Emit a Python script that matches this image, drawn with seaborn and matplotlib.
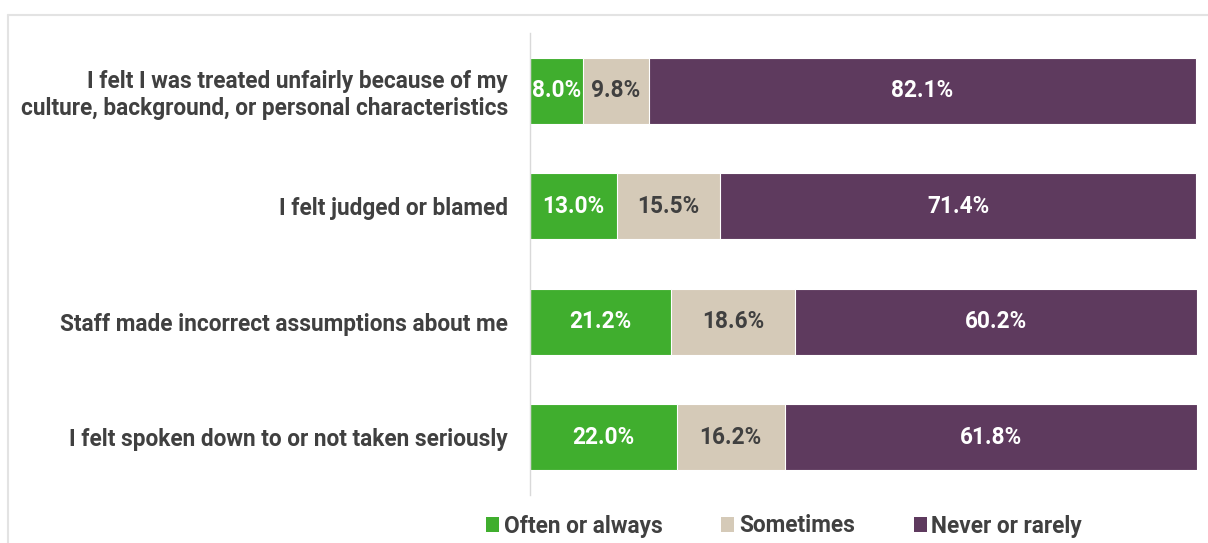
import numpy as np
import pandas as pd
import matplotlib
matplotlib.use("Agg")
import matplotlib.pyplot as plt
from matplotlib.lines import Line2D
from matplotlib.patches import Patch
import seaborn as sns

# Survey items and response shares (%)
items = [
    "I felt I was treated unfairly because of my\nculture, background, or personal characteristics",
    "I felt judged or blamed",
    "Staff made incorrect assumptions about me",
    "I felt spoken down to or not taken seriously",
]
often = [8.0, 13.0, 21.2, 22.0]
sometimes = [9.8, 15.5, 18.6, 16.2]
never = [82.1, 71.4, 60.2, 61.8]

series_names = ["Often or always", "Sometimes", "Never or rarely"]
colors = ["#40AE2E", "#D5CAB8", "#5E3A5E"]
label_colors = ["white", "#404040", "white"]
text_color = "#404040"
fs = 16.3

sns.set_theme(style="white")
plt.rcParams["font.family"] = ["Roboto", "DejaVu Sans"]

df = pd.DataFrame({"item": items, "often": often, "sometimes": sometimes, "never": never})
df["c1"] = df["often"]
df["c2"] = df["often"] + df["sometimes"]
df["c3"] = df["c2"] + df["never"]

fig = plt.figure(figsize=(12.08, 5.43), dpi=100)
ax = fig.add_axes([530 / 1208, 1 - 495 / 543, (1197 - 530) / 1208, (495 - 33) / 543])

# Stacked bars drawn as overlapping cumulative totals, largest first
for col, color in zip(["c3", "c2", "c1"], colors[::-1]):
    sns.barplot(data=df, x=col, y="item", orient="h", color=color, width=0.57,
                edgecolor="white", linewidth=0.8, ax=ax, saturation=1)

# Value labels centred on each segment
segments = [df["often"].values, df["sometimes"].values, df["never"].values]
starts = [np.zeros(len(df)), df["c1"].values, df["c2"].values]
for vals, left, tc in zip(segments, starts, label_colors):
    for i, (v, l) in enumerate(zip(vals, left)):
        ax.text(l + v / 2, i, f"{v:.1f}%", ha="center", va="center",
                color=tc, fontsize=fs, fontweight="bold")

ax.set_xlim(0, 100)
ax.set_ylim(3.5, -0.5)
ax.set_xlabel("")
ax.set_ylabel("")
ax.set_xticks([])
ax.tick_params(axis="y", length=0, pad=16)
for lbl in ax.get_yticklabels():
    lbl.set_fontsize(fs)
    lbl.set_fontweight("bold")
    lbl.set_color(text_color)
    lbl.set_horizontalalignment("right")
    lbl.set_multialignment("right")
for side in ["top", "right", "bottom"]:
    ax.spines[side].set_visible(False)
ax.spines["left"].set_color("#D9D9D9")
ax.spines["left"].set_linewidth(1)

# Legend
handles = [Patch(facecolor=c, edgecolor="none") for c in colors]
leg = fig.legend(handles, series_names, loc="center", bbox_to_anchor=(784 / 1208, 1 - 526 / 543),
                 ncol=3, frameon=False, handlelength=0.58, handleheight=0.58,
                 handletextpad=0.2, columnspacing=2.6,
                 prop={"size": fs, "weight": "bold"})
for t in leg.get_texts():
    t.set_color(text_color)

# Outer frame lines
fig.add_artist(Line2D([8 / 1208, 1], [1 - 15 / 543, 1 - 15 / 543], color="#E3E3E3", lw=1.5,
                      transform=fig.transFigure))
fig.add_artist(Line2D([8 / 1208, 8 / 1208], [0, 1 - 15 / 543], color="#E3E3E3", lw=1.5,
                      transform=fig.transFigure))

fig.savefig("out.png", dpi=100, facecolor="white")
